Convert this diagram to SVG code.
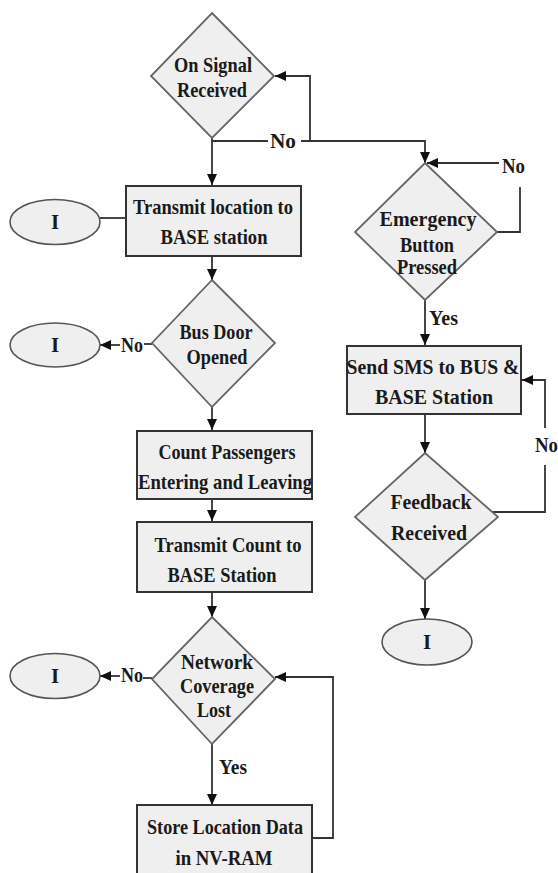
<svg xmlns="http://www.w3.org/2000/svg" width="558" height="873" viewBox="0 0 558 873">
<defs>
<style>
.dia{fill:#efefef;stroke:#666;stroke-width:1.8}
.box{fill:#efefef;stroke:#333;stroke-width:2}
.ell{fill:#efefef;stroke:#555;stroke-width:1.6}
.t{font-family:"Liberation Serif","Times New Roman",serif;font-weight:bold;fill:#1a1a1a;text-anchor:middle;dominant-baseline:central;font-size:21px}
.lbl{font-family:"Liberation Serif","Times New Roman",serif;font-weight:bold;fill:#1a1a1a;dominant-baseline:central;font-size:20px}
.c{fill:none;stroke:#333;stroke-width:1.8}
</style>
<marker id="ah" markerWidth="11" markerHeight="10" refX="11" refY="5" orient="auto" markerUnits="userSpaceOnUse">
<path d="M0,0 L11,5 L0,10 z" fill="#111"/>
</marker>
</defs>
<rect x="0" y="0" width="558" height="873" fill="#fff"/>

<g id="connectors">
<path class="c" d="M212,138 V185" marker-end="url(#ah)"/>
<path class="c" d="M212,141 H268"/>
<path class="c" d="M301,141 H425 V163" marker-end="url(#ah)"/>
<path class="c" d="M310,141 V76 H275" marker-end="url(#ah)"/>
<path class="c" d="M100,218 H126"/>
<path class="c" d="M212,256 V280" marker-end="url(#ah)"/>
<path class="c" d="M152,344 H144"/>
<path class="c" d="M120,345 H100" marker-end="url(#ah)"/>
<path class="c" d="M212,407 V430" marker-end="url(#ah)"/>
<path class="c" d="M212,499 V521" marker-end="url(#ah)"/>
<path class="c" d="M212,592 V617" marker-end="url(#ah)"/>
<path class="c" d="M152,678 H143"/>
<path class="c" d="M120,676 H100" marker-end="url(#ah)"/>
<path class="c" d="M212,744 V805" marker-end="url(#ah)"/>
<path class="c" d="M312,838 H333 V677 H275" marker-end="url(#ah)"/>
<path class="c" d="M497,232 H520 V187"/>
<path class="c" d="M499,163 H427" marker-end="url(#ah)"/>
<path class="c" d="M425,300 V345" marker-end="url(#ah)"/>
<path class="c" d="M425,414 V453" marker-end="url(#ah)"/>
<path class="c" d="M492,512 H545 V465"/>
<path class="c" d="M545,428 V380 H522" marker-end="url(#ah)"/>
<path class="c" d="M425,580 V619" marker-end="url(#ah)"/>
<text class="lbl" x="270" y="141" textLength="26" lengthAdjust="spacingAndGlyphs">No</text>
<text class="lbl" x="121" y="345" textLength="22" lengthAdjust="spacingAndGlyphs">No</text>
<text class="lbl" x="121" y="675" textLength="22" lengthAdjust="spacingAndGlyphs">No</text>
<text class="lbl" x="219" y="767" textLength="28" lengthAdjust="spacingAndGlyphs">Yes</text>
<text class="lbl" x="502" y="166" textLength="23" lengthAdjust="spacingAndGlyphs">No</text>
<text class="lbl" x="429" y="318" textLength="29" lengthAdjust="spacingAndGlyphs">Yes</text>
<text class="lbl" x="535" y="445" textLength="23" lengthAdjust="spacingAndGlyphs">No</text>
</g>

<g id="on-signal">
<polygon class="dia" points="212,13 274,76 212,138 151,76"/>
<text class="t" x="213" y="65" font-size="20" textLength="78" lengthAdjust="spacingAndGlyphs">On Signal</text>
<text class="t" x="212" y="90" font-size="20" textLength="70" lengthAdjust="spacingAndGlyphs">Received</text>
</g>

<g id="transmit-location">
<rect class="box" x="126" y="186" width="175" height="70"/>
<text class="t" x="213" y="207" textLength="160" lengthAdjust="spacingAndGlyphs">Transmit location to</text>
<text class="t" x="214" y="237" textLength="107" lengthAdjust="spacingAndGlyphs">BASE station</text>
</g>

<g id="i-1">
<ellipse class="ell" cx="55" cy="222" rx="45" ry="22.5"/>
<text class="t" x="55" y="222" font-size="23">I</text>
</g>

<g id="bus-door">
<polygon class="dia" points="212,280 275,343 212,407 152,343"/>
<text class="t" x="216" y="332" font-size="20" textLength="73" lengthAdjust="spacingAndGlyphs">Bus Door</text>
<text class="t" x="217" y="357" font-size="20" textLength="61" lengthAdjust="spacingAndGlyphs">Opened</text>
</g>

<g id="i-2">
<ellipse class="ell" cx="55" cy="345" rx="45" ry="22"/>
<text class="t" x="55" y="345" font-size="23">I</text>
</g>

<g id="count-passengers">
<rect class="box" x="137" y="431" width="175" height="68"/>
<text class="t" x="227" y="452" textLength="137" lengthAdjust="spacingAndGlyphs">Count Passengers</text>
<text class="t" x="225" y="482" textLength="174" lengthAdjust="spacingAndGlyphs">Entering and Leaving</text>
</g>

<g id="transmit-count">
<rect class="box" x="137" y="522" width="175" height="70"/>
<text class="t" x="228" y="545" textLength="147" lengthAdjust="spacingAndGlyphs">Transmit Count to</text>
<text class="t" x="222" y="575" textLength="109" lengthAdjust="spacingAndGlyphs">BASE Station</text>
</g>

<g id="network">
<polygon class="dia" points="212,617 275,679 212,744 152,679"/>
<text class="t" x="217" y="662" font-size="19" textLength="72" lengthAdjust="spacingAndGlyphs">Network</text>
<text class="t" x="217" y="686" font-size="19" textLength="74" lengthAdjust="spacingAndGlyphs">Coverage</text>
<text class="t" x="214" y="710" font-size="19" textLength="34" lengthAdjust="spacingAndGlyphs">Lost</text>
</g>

<g id="i-3">
<ellipse class="ell" cx="55" cy="676" rx="45" ry="22.5"/>
<text class="t" x="55" y="676" font-size="23">I</text>
</g>

<g id="store-location">
<rect class="box" x="137" y="805" width="175" height="72"/>
<text class="t" x="225" y="827" textLength="156" lengthAdjust="spacingAndGlyphs">Store Location Data</text>
<text class="t" x="224" y="858" textLength="97" lengthAdjust="spacingAndGlyphs">in NV-RAM</text>
</g>

<g id="emergency">
<polygon class="dia" points="425,163 497,232 425,300 355,232"/>
<text class="t" x="428" y="219" font-size="23" textLength="97" lengthAdjust="spacingAndGlyphs">Emergency</text>
<text class="t" x="427" y="245" font-size="16" textLength="54" lengthAdjust="spacingAndGlyphs">Button</text>
<text class="t" x="427" y="267" font-size="16" textLength="60" lengthAdjust="spacingAndGlyphs">Pressed</text>
</g>

<g id="send-sms">
<rect class="box" x="347" y="346" width="174" height="68"/>
<text class="t" x="433" y="367" textLength="173" lengthAdjust="spacingAndGlyphs">Send SMS to BUS &amp;</text>
<text class="t" x="434" y="397" textLength="118" lengthAdjust="spacingAndGlyphs">BASE Station</text>
</g>

<g id="feedback">
<polygon class="dia" points="425,453 498,517 425,580 355,517"/>
<text class="t" x="431" y="502" textLength="81" lengthAdjust="spacingAndGlyphs">Feedback</text>
<text class="t" x="429" y="533" textLength="76" lengthAdjust="spacingAndGlyphs">Received</text>
</g>

<g id="i-4">
<ellipse class="ell" cx="427" cy="642" rx="45" ry="23"/>
<text class="t" x="427" y="642" font-size="23">I</text>
</g>
</svg>
